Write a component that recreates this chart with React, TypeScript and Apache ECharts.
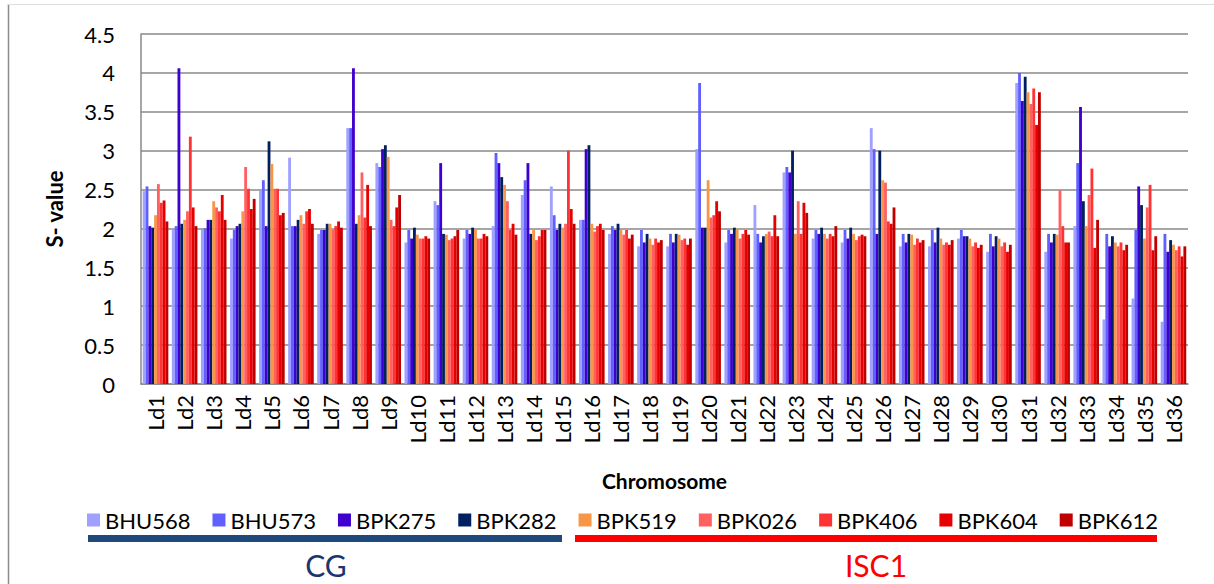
import React, { useEffect, useRef } from "react";
import * as echarts from "echarts";

const categories = [
  "Ld1", "Ld2", "Ld3", "Ld4", "Ld5", "Ld6", "Ld7", "Ld8", "Ld9", "Ld10", "Ld11", "Ld12",
  "Ld13", "Ld14", "Ld15", "Ld16", "Ld17", "Ld18", "Ld19", "Ld20", "Ld21", "Ld22", "Ld23", "Ld24",
  "Ld25", "Ld26", "Ld27", "Ld28", "Ld29", "Ld30", "Ld31", "Ld32", "Ld33", "Ld34", "Ld35", "Ld36",
];

const BHU568 = [2.48, 1.98, 1.98, 1.87, 2.49, 2.91, 1.93, 3.29, 2.84, 1.82, 2.35, 1.87, 2.03, 2.43, 2.54, 2.11, 1.93, 1.77, 1.77, 3.02, 1.82, 2.3, 2.72, 1.87, 1.82, 3.29, 1.77, 1.77, 1.87, 1.7, 3.87, 1.7, 2.03, 0.83, 1.1, 0.8];
const BHU573 = [2.54, 2.03, 2.0, 1.98, 2.62, 2.03, 1.98, 3.29, 2.79, 1.98, 2.3, 1.98, 2.97, 2.62, 2.17, 2.11, 2.03, 1.98, 1.93, 3.87, 1.98, 1.93, 2.79, 1.98, 1.98, 3.02, 1.93, 1.98, 1.98, 1.93, 4.0, 1.93, 2.84, 1.93, 1.98, 1.93];
const BPK275 = [2.03, 4.06, 2.11, 2.03, 2.03, 2.03, 1.98, 4.06, 3.02, 1.87, 2.84, 1.93, 2.84, 2.84, 1.98, 3.02, 1.98, 1.82, 1.82, 2.01, 1.93, 1.82, 2.72, 1.93, 1.87, 1.93, 1.82, 1.82, 1.9, 1.77, 3.64, 1.82, 3.56, 1.77, 2.54, 1.7];
const BPK282 = [2.01, 2.06, 2.11, 2.06, 3.12, 2.11, 2.06, 2.06, 3.07, 2.01, 1.93, 2.01, 2.66, 1.93, 2.06, 3.07, 2.06, 1.93, 1.93, 2.01, 2.01, 1.9, 3.0, 2.01, 2.01, 3.0, 1.93, 2.01, 1.9, 1.9, 3.95, 1.93, 2.35, 1.9, 2.3, 1.85];
const BPK519 = [2.17, 2.11, 2.35, 2.22, 2.83, 2.17, 2.06, 2.17, 2.92, 1.92, 1.92, 1.98, 2.56, 1.98, 2.01, 2.06, 1.98, 1.87, 1.92, 2.62, 1.98, 1.93, 1.93, 1.93, 1.93, 2.62, 1.92, 1.87, 1.87, 1.87, 3.75, 1.92, 2.03, 1.82, 1.87, 1.79];
const BPK026 = [2.57, 2.22, 2.27, 2.79, 2.51, 2.06, 1.98, 2.72, 2.11, 1.87, 1.85, 1.87, 2.35, 1.85, 2.06, 1.96, 1.92, 1.79, 1.85, 2.14, 1.87, 1.96, 2.35, 1.87, 1.85, 2.59, 1.79, 1.79, 1.77, 1.77, 3.6, 2.49, 2.43, 1.77, 2.27, 1.72];
const BPK406 = [2.33, 3.18, 2.22, 2.51, 2.51, 2.22, 2.03, 2.14, 2.03, 1.87, 1.87, 1.87, 1.98, 1.9, 3.0, 2.03, 1.98, 1.87, 1.87, 2.17, 1.93, 1.9, 1.93, 1.93, 1.9, 2.09, 1.87, 1.82, 1.82, 1.82, 3.8, 2.03, 2.77, 1.82, 2.56, 1.77];
const BPK604 = [2.36, 2.27, 2.43, 2.25, 2.17, 2.25, 2.09, 2.56, 2.27, 1.9, 1.9, 1.93, 2.06, 1.98, 2.25, 2.06, 1.87, 1.82, 1.79, 2.35, 1.98, 2.17, 2.33, 1.9, 1.92, 2.06, 1.82, 1.79, 1.75, 1.7, 3.33, 1.82, 1.75, 1.72, 1.72, 1.64];
const BPK612 = [2.09, 2.03, 2.11, 2.38, 2.2, 2.06, 2.01, 2.03, 2.43, 1.87, 1.98, 1.9, 1.92, 1.98, 2.06, 1.98, 1.92, 1.85, 1.87, 2.22, 1.92, 1.9, 2.2, 2.03, 1.9, 2.27, 1.85, 1.85, 1.79, 1.79, 3.75, 1.82, 2.11, 1.79, 1.9, 1.77];

const seriesNames = ["BHU568", "BHU573", "BPK275", "BPK282", "BPK519", "BPK026", "BPK406", "BPK604", "BPK612"];
const seriesData = [BHU568, BHU573, BPK275, BPK282, BPK519, BPK026, BPK406, BPK604, BPK612];
const seriesColors = ["#A0A0FF", "#6060FF", "#3F00CF", "#002060", "#F79646", "#FF5F5F", "#FF3333", "#E60000", "#C00000"];

const FONT = "Lato, 'Open Sans', sans-serif";

export default function App() {
  const ref = useRef<HTMLDivElement>(null);

  useEffect(() => {
    if (!ref.current) return;
    const chart = echarts.init(ref.current, null, { renderer: "svg" });
    chart.setOption({
      animation: false,
      backgroundColor: "#ffffff",
      textStyle: { fontFamily: FONT },
      grid: { left: 141, right: 26, top: 34, bottom: 200, containLabel: false },
      legend: {
        data: seriesNames,
        left: 82,
        top: 504,
        icon: "rect",
        itemWidth: 13,
        itemHeight: 13,
        itemGap: 22,
        textStyle: { fontSize: 22, color: "#000", fontFamily: FONT },
      },
      xAxis: {
        type: "category",
        data: categories,
        name: "Chromosome",
        nameLocation: "middle",
        nameGap: 86,
        nameTextStyle: { fontSize: 21, fontWeight: "bold", color: "#000", fontFamily: FONT },
        axisLine: { lineStyle: { color: "#888888", width: 1.5 } },
        axisTick: { show: false },
        axisLabel: { rotate: 90, fontSize: 22, color: "#000", margin: 11, interval: 0, fontFamily: FONT },
      },
      yAxis: {
        type: "value",
        min: 0,
        max: 4.5,
        interval: 0.5,
        name: "S- value",
        nameLocation: "middle",
        nameRotate: 90,
        nameGap: 76,
        nameTextStyle: { fontSize: 22, fontWeight: "bold", color: "#000", fontFamily: FONT },
        axisLine: { show: true, lineStyle: { color: "#888888", width: 1.5 } },
        axisTick: { show: false },
        axisLabel: { fontSize: 22, color: "#000", margin: 26, fontFamily: FONT },
        splitLine: { lineStyle: { color: "#888888", width: 1.6 } },
      },
      series: seriesNames.map((name, i) => ({
        name,
        type: "bar",
        data: seriesData[i],
        itemStyle: { color: seriesColors[i] },
        barGap: "0%",
        barCategoryGap: "12%",
      })),
      graphic: [
        { type: "line", shape: { x1: 8.5, y1: 4, x2: 8.5, y2: 584 }, style: { stroke: "#8c8c8c", lineWidth: 1.5 } },
        { type: "line", shape: { x1: 8, y1: 4.5, x2: 1214, y2: 4.5 }, style: { stroke: "#dddddd", lineWidth: 1 } },
        { type: "rect", shape: { x: 88, y: 535, width: 474, height: 7 }, style: { fill: "#1F497D" } },
        { type: "rect", shape: { x: 575, y: 535, width: 582, height: 7 }, style: { fill: "#FF0000" } },
        {
          type: "text",
          x: 326,
          y: 565,
          style: { text: "CG", fontSize: 30, fontFamily: FONT, fill: "#1A3672", textAlign: "center", textVerticalAlign: "middle" },
        },
        {
          type: "text",
          x: 876,
          y: 565,
          style: { text: "ISC1", fontSize: 30, fontFamily: FONT, fill: "#FF0000", textAlign: "center", textVerticalAlign: "middle" },
        },
      ],
    });
    return () => chart.dispose();
  }, []);

  return (
    <div
      ref={ref}
      style={{ position: "fixed", left: 0, top: 0, width: 1214, height: 584, background: "#fff" }}
    />
  );
}
